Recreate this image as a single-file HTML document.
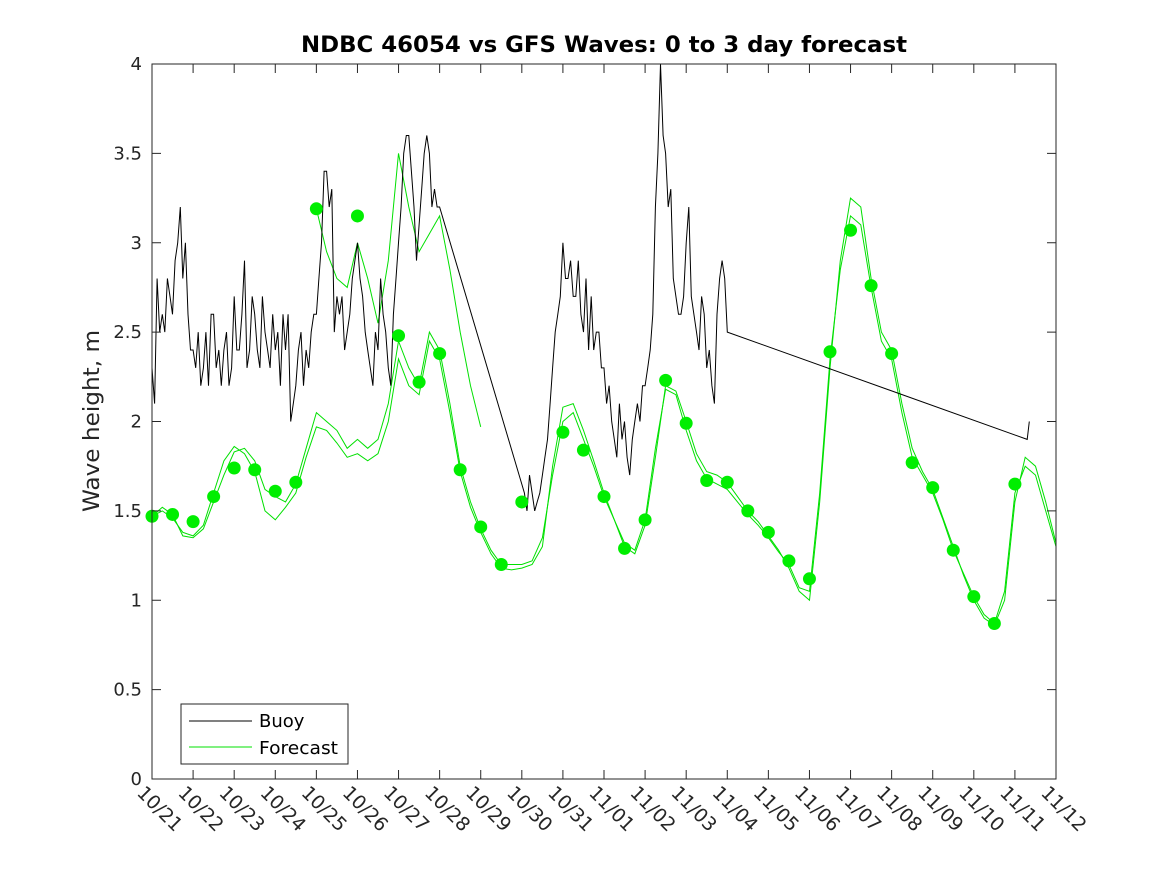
<!DOCTYPE html>
<html><head><meta charset="utf-8">
<style>
body{margin:0;background:#fff;}
svg{display:block;font-family:"DejaVu Sans","Liberation Sans",sans-serif;}
</style></head>
<body>
<svg id="chart" width="1167" height="875" viewBox="0 0 1167 875" xmlns="http://www.w3.org/2000/svg">
<rect width="1167" height="875" fill="#fff"/>
<text x="604" y="52" text-anchor="middle" font-size="22" font-weight="bold" fill="#000" textLength="606" lengthAdjust="spacingAndGlyphs">NDBC 46054 vs GFS Waves: 0 to 3 day forecast</text>
<text transform="translate(99,421) rotate(-90)" text-anchor="middle" font-size="22" fill="#262626" textLength="182" lengthAdjust="spacingAndGlyphs">Wave height, m</text>
<g id="grid"></g>
<g id="series"></g>
<g id="axes"></g>
<g>
<rect x="181" y="704" width="167" height="60" fill="#fff" stroke="#262626" stroke-width="1"/>
<line x1="189" y1="721" x2="252" y2="721" stroke="#000" stroke-width="1"/>
<text x="259" y="727" font-size="18" fill="#000">Buoy</text>
<line x1="189" y1="747" x2="252" y2="747" stroke="#00e000" stroke-width="1"/>
<text x="259" y="754" font-size="18" fill="#000" textLength="79" lengthAdjust="spacingAndGlyphs">Forecast</text>
</g>
</svg>
<script>
const xTickLabels=["10/21","10/22","10/23","10/24","10/25","10/26","10/27","10/28","10/29","10/30","10/31","11/01","11/02","11/03","11/04","11/05","11/06","11/07","11/08","11/09","11/10","11/11","11/12"];
const yTicks=[0,0.5,1,1.5,2,2.5,3,3.5,4];
const yTickLabels=["0","0.5","1","1.5","2","2.5","3","3.5","4"];
const buoySeg1=[2.3,2.1,2.8,2.5,2.6,2.5,2.8,2.7,2.6,2.9,3.0,3.2,2.8,3.0,2.6,2.4, 2.4,2.3,2.5,2.2,2.3,2.5,2.2,2.6,2.6,2.3,2.4,2.2,2.4,2.5,2.2,2.3, 2.7,2.4,2.4,2.6,2.9,2.3,2.4,2.7,2.6,2.4,2.3,2.7,2.5,2.4,2.3,2.6, 2.4,2.5,2.2,2.6,2.4,2.6,2.0,2.1,2.2,2.4,2.5,2.2,2.4,2.3,2.5,2.6, 2.6,2.8,3.0,3.4,3.4,3.2,3.3,2.5,2.7,2.6,2.7,2.4,2.5,2.6,2.8,2.9, 3.0,2.8,2.7,2.5,2.4,2.3,2.2,2.5,2.4,2.8,2.6,2.5,2.3,2.2,2.6,2.8, 3.0,3.2,3.5,3.6,3.6,3.4,3.2,2.9,3.1,3.3,3.5,3.6,3.5,3.2,3.3,3.2, 3.2];
const buoySeg2=[1.65,1.6,1.5,1.7,1.6,1.5,1.55,1.6,1.7,1.8,1.9,2.1,2.3,2.5,2.6,2.7, 3.0,2.8,2.8,2.9,2.7,2.7,2.9,2.6,2.5,2.8,2.4,2.7,2.4,2.5,2.5,2.3, 2.3,2.1,2.2,2.0,1.9,1.8,2.1,1.9,2.0,1.8,1.7,1.9,2.0,2.1,2.0,2.2, 2.2,2.3,2.4,2.6,3.2,3.5,4.0,3.6,3.5,3.2,3.3,2.8,2.7,2.6,2.6,2.7, 3.0,3.2,2.7,2.6,2.5,2.4,2.7,2.6,2.3,2.4,2.2,2.1,2.6,2.8,2.9,2.8, 2.5];
const buoyTail=[[21.3,1.9],[21.35,2.0]];
const fcMain=[1.47,1.52,1.48,1.36,1.35,1.40,1.55,1.70,1.83,1.85,1.78,1.62,1.58,1.55,1.65,1.85,2.05,2.0,1.95,1.85,1.9,1.85,1.9,2.1,2.45,2.3,2.2,2.5,2.4,2.1,1.75,1.55,1.4,1.28,1.2,1.2,1.2,1.22,1.35,1.7,2.0,2.05,1.9,1.75,1.58,1.45,1.32,1.28,1.45,1.85,2.18,2.15,1.95,1.78,1.68,1.65,1.62,1.55,1.48,1.42,1.35,1.27,1.2,1.07,1.05,1.6,2.35,2.85,3.15,3.1,2.75,2.45,2.35,2.05,1.8,1.7,1.6,1.45,1.28,1.15,1.02,0.92,0.87,1.05,1.6,1.75,1.7,1.5,1.3];
const fcAlt=[1.47,1.5,1.46,1.38,1.36,1.42,1.6,1.78,1.86,1.82,1.72,1.5,1.45,1.52,1.6,1.8,1.97,1.95,1.88,1.8,1.82,1.78,1.82,2.0,2.35,2.2,2.15,2.45,2.35,2.05,1.72,1.52,1.38,1.26,1.18,1.17,1.18,1.2,1.3,1.75,2.08,2.1,1.95,1.78,1.6,1.45,1.3,1.26,1.42,1.8,2.2,2.17,2.0,1.82,1.72,1.7,1.66,1.58,1.5,1.44,1.36,1.28,1.18,1.05,1.0,1.55,2.3,2.9,3.25,3.2,2.8,2.5,2.4,2.1,1.85,1.72,1.62,1.46,1.3,1.14,1.0,0.9,0.86,1.0,1.55,1.8,1.75,1.55,1.32];
const fcUpperDays=[4.0,4.25,4.5,4.75,5.0,5.25,5.5,5.75,6.0,6.25,6.5,6.75,7.0,7.25,7.5,7.75,8.0];
const fcUpper=[3.19,2.95,2.8,2.75,3.0,2.8,2.55,2.9,3.5,3.2,2.95,3.05,3.15,2.85,2.5,2.2,1.97];
const dotDays=[0,0.5,1,1.5,2,2.5,3,3.5,4,5,6,6.5,7,7.5,8,8.5,9,10,10.5,11,11.5,12,12.5,13,13.5,14,14.5,15,15.5,16,16.5,17,17.5,18,18.5,19,19.5,20,20.5,21];
const dotValues=[1.47,1.48,1.44,1.58,1.74,1.73,1.61,1.66,3.19,3.15,2.48,2.22,2.38,1.73,1.41,1.20,1.55,1.94,1.84,1.58,1.29,1.45,2.23,1.99,1.67,1.66,1.50,1.38,1.22,1.12,2.39,3.07,2.76,2.38,1.77,1.63,1.28,1.02,0.87,1.65];

const X0=152,X1=1056,Y0=779,Y1=64,NS="http://www.w3.org/2000/svg";
const xs=d=>X0+(X1-X0)*d/22;
const ys=v=>Y0-(Y0-Y1)*v/4;
function mk(tag,attrs,parent){const e=document.createElementNS(NS,tag);for(const k in attrs)e.setAttribute(k,attrs[k]);parent.appendChild(e);return e;}
const axes=document.getElementById('axes'),series=document.getElementById('series');
const frame=mk('rect',{x:X0,y:Y1,width:X1-X0,height:Y0-Y1,fill:'none',stroke:'#262626','stroke-width':1},axes);


xTickLabels.forEach((lab,i)=>{const x=xs(i);
 mk('line',{x1:x,y1:Y0,x2:x,y2:Y0-9,stroke:'#262626'},axes);
 mk('line',{x1:x,y1:Y1,x2:x,y2:Y1+9,stroke:'#262626'},axes);
 const t=mk('text',{x:0,y:0,transform:`translate(${x-16},${Y0+15}) rotate(45)`,'font-size':19,fill:'#262626'},axes);
 t.textContent=lab;
 
 
});
yTicks.forEach((v,i)=>{const y=ys(v);
 mk('line',{x1:X0,y1:y,x2:X0+9,y2:y,stroke:'#262626'},axes);
 mk('line',{x1:X1,y1:y,x2:X1-9,y2:y,stroke:'#262626'},axes);
 const t=mk('text',{x:X0-10,y:y+6,'text-anchor':'end','font-size':18,fill:'#262626'},axes);
 t.textContent=yTickLabels[i];
 
 
});
function poly(pts,color,name){const p=mk('polyline',{points:pts.map(q=>xs(q[0]).toFixed(1)+','+ys(q[1]).toFixed(1)).join(' '),fill:'none',stroke:color,'stroke-width':1},series);
 
 }
poly(fcMain.map((v,i)=>[i*0.25,v]),'#00e000','forecast-line-main');
poly(fcAlt.map((v,i)=>[i*0.25,v]),'#00e000','forecast-line-alt');
poly(fcUpperDays.map((d,i)=>[d,fcUpper[i]]),'#00e000','forecast-line-upper');
const bp=[];
buoySeg1.forEach((v,i)=>bp.push([i*0.0625,v]));
buoySeg2.forEach((v,i)=>bp.push([9+i*0.0625,v]));
buoyTail.forEach(q=>bp.push(q));
poly(bp,'#000','buoy-line');
dotDays.forEach((d,i)=>{const c=mk('circle',{cx:xs(d),cy:ys(dotValues[i]),r:6.5,fill:'#00ee00'},series);
 
 });
</script>
</body></html>
